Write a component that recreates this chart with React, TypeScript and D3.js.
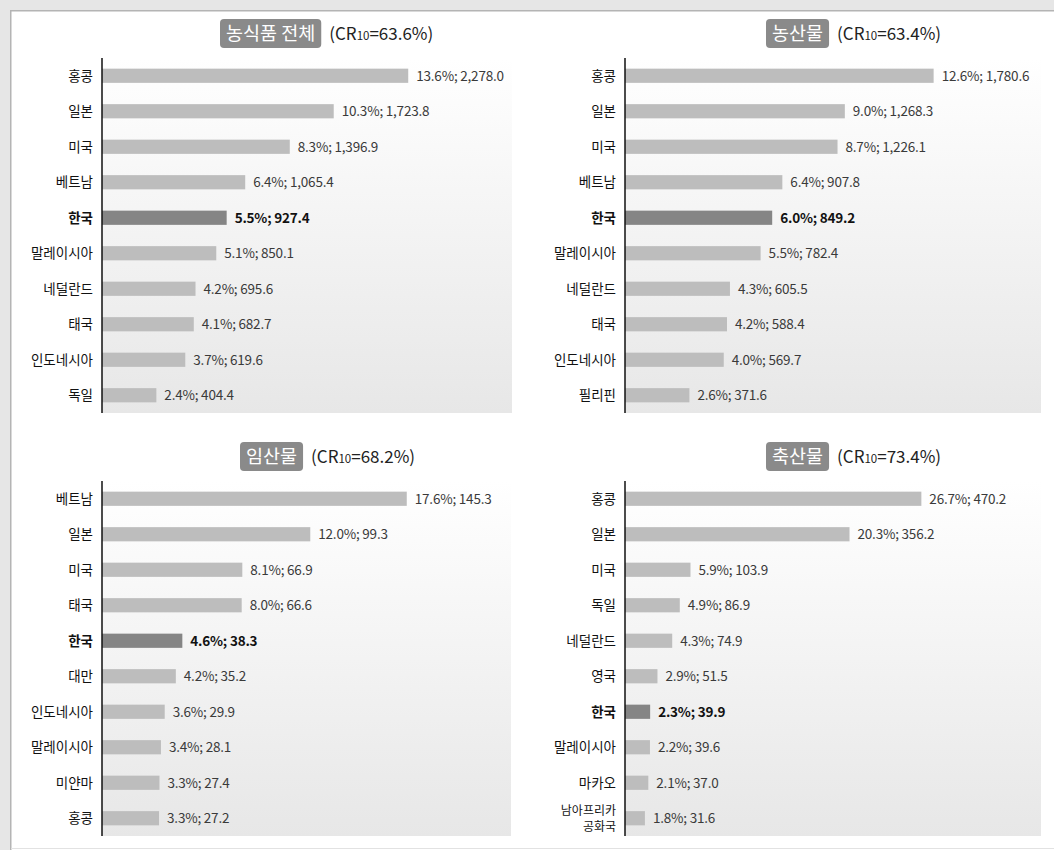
import React, { useEffect, useRef } from 'react';
import * as d3 from 'd3';

const WIDTH = 1054;
const HEIGHT = 850;

// 농식품 전체
const totalCountries = ['홍콩', '일본', '미국', '베트남', '한국', '말레이시아', '네덜란드', '태국', '인도네시아', '독일'];
const totalShares = [13.6, 10.3, 8.3, 6.4, 5.5, 5.1, 4.2, 4.1, 3.7, 2.4];
const totalValues = [2278.0, 1723.8, 1396.9, 1065.4, 927.4, 850.1, 695.6, 682.7, 619.6, 404.4];

// 농산물
const agriCountries = ['홍콩', '일본', '미국', '베트남', '한국', '말레이시아', '네덜란드', '태국', '인도네시아', '필리핀'];
const agriShares = [12.6, 9.0, 8.7, 6.4, 6.0, 5.5, 4.3, 4.2, 4.0, 2.6];
const agriValues = [1780.6, 1268.3, 1226.1, 907.8, 849.2, 782.4, 605.5, 588.4, 569.7, 371.6];

// 임산물
const forestCountries = ['베트남', '일본', '미국', '태국', '한국', '대만', '인도네시아', '말레이시아', '미얀마', '홍콩'];
const forestShares = [17.6, 12.0, 8.1, 8.0, 4.6, 4.2, 3.6, 3.4, 3.3, 3.3];
const forestValues = [145.3, 99.3, 66.9, 66.6, 38.3, 35.2, 29.9, 28.1, 27.4, 27.2];

// 축산물
const livestockCountries = ['홍콩', '일본', '미국', '독일', '네덜란드', '영국', '한국', '말레이시아', '마카오', '남아프리카\n공화국'];
const livestockShares = [26.7, 20.3, 5.9, 4.9, 4.3, 2.9, 2.3, 2.2, 2.1, 1.8];
const livestockValues = [470.2, 356.2, 103.9, 86.9, 74.9, 51.5, 39.9, 39.6, 37.0, 31.6];

const panelTitles = ['농식품 전체', '농산물', '임산물', '축산물'];
const panelCR = ['63.6', '63.4', '68.2', '73.4'];
const highlight = '한국';

interface Panel {
    title: string;
    cr: string;
    countries: string[];
    shares: number[];
    values: number[];
    domainMax: number;
    axisX: number;
    rightX: number;
    top: number;
    bottom: number;
    badgeX: number;
    badgeY: number;
}

const panels: Panel[] = [
    { title: panelTitles[0], cr: panelCR[0], countries: totalCountries, shares: totalShares, values: totalValues, domainMax: 3050, axisX: 102, rightX: 512, top: 58, bottom: 413, badgeX: 220, badgeY: 19 },
    { title: panelTitles[1], cr: panelCR[1], countries: agriCountries, shares: agriShares, values: agriValues, domainMax: 2400, axisX: 625, rightX: 1041, top: 58, bottom: 413, badgeX: 766, badgeY: 19 },
    { title: panelTitles[2], cr: panelCR[2], countries: forestCountries, shares: forestShares, values: forestValues, domainMax: 195, axisX: 102, rightX: 511, top: 481, bottom: 836, badgeX: 240, badgeY: 442 },
    { title: panelTitles[3], cr: panelCR[3], countries: livestockCountries, shares: livestockShares, values: livestockValues, domainMax: 660, axisX: 625, rightX: 1041, top: 481, bottom: 836, badgeX: 766, badgeY: 442 },
];

const FONT = '"Noto Sans CJK KR", "Noto Sans", sans-serif';
const fmtValue = d3.format(',.1f');
const fmtShare = d3.format('.1f');

export default function App() {
    const svgRef = useRef<SVGSVGElement | null>(null);

    useEffect(() => {
        const el = svgRef.current;
        if (!el) return;
        const svg = d3.select(el);
        svg.selectAll('*').remove(); // <-- clear previous

        const defs = svg.append('defs');
        const grad = defs.append('linearGradient')
            .attr('id', 'plotBg')
            .attr('x1', 0).attr('y1', 0).attr('x2', 0).attr('y2', 1);
        grad.append('stop').attr('offset', '0%').attr('stop-color', '#ffffff');
        grad.append('stop').attr('offset', '100%').attr('stop-color', '#e7e7e7');

        // page frame
        svg.append('rect').attr('width', WIDTH).attr('height', HEIGHT).attr('fill', '#ffffff');
        svg.append('rect').attr('x', 0).attr('y', 0).attr('width', WIDTH).attr('height', 10).attr('fill', '#e6e6e6');
        svg.append('rect').attr('x', 0).attr('y', 0).attr('width', 10).attr('height', HEIGHT).attr('fill', '#e6e6e6');
        svg.append('rect').attr('x', 10).attr('y', 10).attr('width', WIDTH - 10).attr('height', 1.5).attr('fill', '#b4b4b4');
        svg.append('rect').attr('x', 10).attr('y', 10).attr('width', 1.5).attr('height', HEIGHT - 10).attr('fill', '#b4b4b4');
        svg.append('rect').attr('x', 11).attr('y', 848).attr('width', WIDTH - 11).attr('height', 1).attr('fill', '#e2e2e2');

        panels.forEach(p => {
            const g = svg.append('g');
            const x = d3.scaleLinear([0, p.domainMax], [p.axisX, p.rightX]);
            const y = d3.scaleBand<string>(p.countries, [p.top, p.bottom]).paddingInner(0.6).paddingOuter(0.3);

            g.append('rect')
                .attr('x', p.axisX).attr('y', p.top)
                .attr('width', p.rightX - p.axisX).attr('height', p.bottom - p.top)
                .attr('fill', 'url(#plotBg)');

            g.selectAll('rect.bar')
                .data(p.countries)
                .join('rect')
                .attr('class', 'bar')
                .attr('x', x(0))
                .attr('y', d => y(d)!)
                .attr('width', (_d, i) => x(p.values[i]) - x(0))
                .attr('height', y.bandwidth())
                .attr('fill', d => d === highlight ? '#858585' : '#bdbdbd');

            g.selectAll('text.val')
                .data(p.countries)
                .join('text')
                .attr('class', 'val')
                .attr('x', (_d, i) => x(p.values[i]) + 8)
                .attr('y', d => y(d)! + y.bandwidth() / 2)
                .attr('dy', '0.36em')
                .attr('font-family', FONT)
                .attr('font-size', 13.5)
                .attr('letter-spacing', -0.2)
                .attr('font-weight', d => d === highlight ? 700 : 400)
                .attr('fill', d => d === highlight ? '#111' : '#3a3a3a')
                .text((_d, i) => `${fmtShare(p.shares[i])}%; ${fmtValue(p.values[i])}`);

            const labels = g.selectAll('text.cat')
                .data(p.countries)
                .join('text')
                .attr('class', 'cat')
                .attr('x', p.axisX - 9)
                .attr('y', d => y(d)! + y.bandwidth() / 2)
                .attr('text-anchor', 'end')
                .attr('font-family', FONT)
                .attr('font-weight', d => d === highlight ? 700 : 400)
                .attr('fill', '#111');
            labels.each(function (d) {
                const t = d3.select(this);
                const lines = d.split('\n');
                if (lines.length === 1) {
                    t.attr('font-size', 13.5).attr('dy', '0.36em').text(d);
                } else {
                    t.attr('font-size', 12);
                    lines.forEach((line, j) => {
                        t.append('tspan')
                            .attr('x', p.axisX - 9)
                            .attr('dy', j === 0 ? '-0.25em' : '1.3em')
                            .text(line);
                    });
                }
            });

            g.append('line')
                .attr('x1', p.axisX).attr('x2', p.axisX)
                .attr('y1', p.top).attr('y2', p.bottom)
                .attr('stroke', '#111').attr('stroke-width', 1.5);

            // title badge
            const badgeH = 29;
            const badgeText = g.append('text')
                .attr('x', p.badgeX + 6)
                .attr('y', p.badgeY + badgeH / 2)
                .attr('dy', '0.36em')
                .attr('font-family', FONT)
                .attr('font-size', 18.5)
                .attr('fill', '#ffffff')
                .text(p.title);
            const tw = (badgeText.node() as SVGTextElement).getComputedTextLength();
            g.insert('rect', () => badgeText.node())
                .attr('x', p.badgeX).attr('y', p.badgeY)
                .attr('width', tw + 12).attr('height', badgeH)
                .attr('rx', 4)
                .attr('fill', '#8a8a8a');

            const cr = g.append('text')
                .attr('x', p.badgeX + tw + 12 + 8)
                .attr('y', p.badgeY + badgeH / 2)
                .attr('dy', '0.36em')
                .attr('font-family', FONT)
                .attr('font-size', 17)
                .attr('fill', '#222');
            cr.append('tspan').text('(CR');
            cr.append('tspan').attr('font-size', 11.5).text('10');
            cr.append('tspan').text(`=${p.cr}%)`);
        });
    }, []);

    return (
        <svg
            ref={svgRef}
            width={WIDTH}
            height={HEIGHT}
            viewBox={`0 0 ${WIDTH} ${HEIGHT}`}
            style={{ position: 'absolute', left: 0, top: 0 }}
        />
    );
}
